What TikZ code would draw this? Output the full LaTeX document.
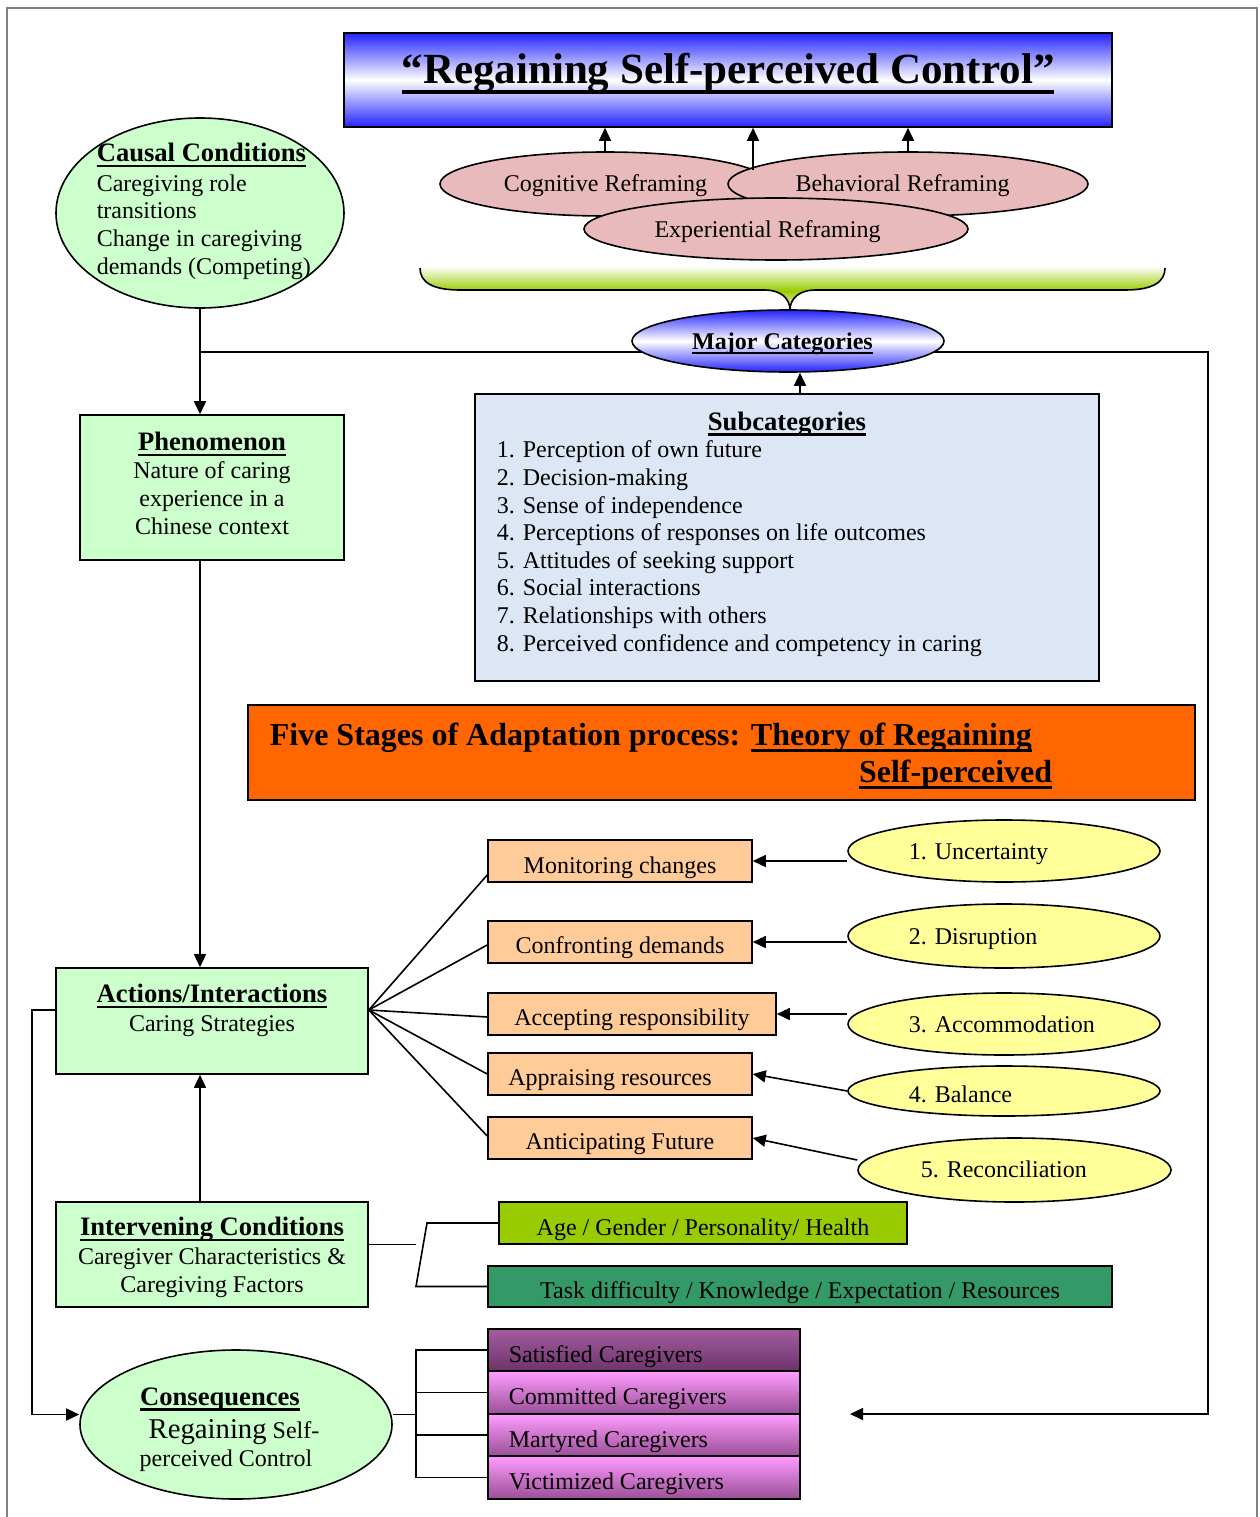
\documentclass[tikz,border=0pt]{standalone}
\usepackage{fontspec}
\setmainfont{Liberation Serif}
\usetikzlibrary{arrows.meta,shapes.geometric,calc}

\definecolor{lgreen}{HTML}{CCFFCC}
\definecolor{peach}{HTML}{FFCC99}
\definecolor{lyellow}{HTML}{FFFF99}
\definecolor{orng}{HTML}{FF6600}
\definecolor{agegreen}{HTML}{99CC00}
\definecolor{taskgreen}{HTML}{339966}
\definecolor{rosy}{HTML}{E8BABC}
\definecolor{paleblue}{HTML}{DCE6F4}
\definecolor{deepblue}{HTML}{2424FF}
\definecolor{pinkA}{HTML}{FF9CFF}
\definecolor{pinkB}{HTML}{EE90EC}
\definecolor{purpA}{HTML}{9A4F97}
\definecolor{purpB}{HTML}{A45CA1}
\definecolor{purpC}{HTML}{7B3E78}
\definecolor{purpD}{HTML}{6C3469}
\definecolor{framegray}{HTML}{808080}

\newcommand\fsz[2]{\fontsize{#1}{#2}\selectfont}
% underline at a fixed depth below the baseline: \ulx{thickness}{text}
\newsavebox\ulbox
\newcommand\ulx[2]{\leavevmode\sbox\ulbox{#2}%
  \rlap{\rule[\dimexpr-0.13em-#1\relax]{\wd\ulbox}{#1}}\usebox\ulbox}

\begin{document}
\begin{tikzpicture}[x=1pt,y=-1pt,line width=1.6pt,
  >={Triangle[length=13pt,width=12pt]},
  box/.style={draw=black, rectangle, inner sep=0pt},
  oval/.style={draw=black, ellipse, inner sep=0pt},
  txt/.style={inner sep=0pt, font=\fsz{24}{27.6}},
  head/.style={inner sep=0pt, font=\bfseries\fsz{26.6}{30}},
  bluefade/.style={top color=deepblue, bottom color=deepblue, middle color=white},
  purplefade/.style={top color=pinkA, middle color=pinkB, bottom color=purpA},
]
\useasboundingbox (0,0) rectangle (1259,1517);
\fill[white] (0,0) rectangle (1259,1517);

% page frame
\draw[framegray, line width=2pt] (7,1517) -- (7,8) -- (1257,8) -- (1257,1517);

% loop from the causal line round to the consequences side (behind the major categories oval)
\coordinate (jn) at (200,352);
\coordinate (rc) at (1208,352);
\coordinate (rb) at (1208,1414);
\coordinate (rtip) at (850,1414);
\draw[->] (jn) -- (rc) -- (rb) -- (rtip);

% ---------- title and reframing ovals ----------
\node[box, bluefade, minimum width=768pt, minimum height=94pt] (title) at (728,80) {};
\node[inner sep=0pt, font=\bfseries\fsz{43}{49}, anchor=base] (title-t) at (728,84)
  {\ulx{4pt}{“Regaining Self-perceived Control”}};

\node[oval, fill=rosy, minimum width=330pt, minimum height=64pt] (cog) at (605,184) {};
\node[oval, fill=rosy, minimum width=360pt, minimum height=64pt] (beh) at (908,184) {};
\node[oval, fill=rosy, minimum width=384pt, minimum height=62pt] (exp) at (776,229) {};
\node[txt, anchor=base] (cog-t) at (605.5,192) {Cognitive Reframing};
\node[txt, anchor=base] (beh-t) at (902.5,192) {Behavioral Reframing};
\node[txt, anchor=base] (exp-t) at (767.5,237) {Experiential Reframing};

\coordinate (midfoot) at (753,170);
\draw[->] (cog.north) -- (cog.north |- title.south);
\draw[->] (midfoot) -- (midfoot |- title.south);
\draw[->] (beh.north) -- (beh.north |- title.south);

% green brace gathering the ovals: green fade clipped to the brace, then its outline
\begin{scope}
  \clip (420,268) .. controls (420,282) and (432,290) .. (460,290) -- (765,290)
    .. controls (780,290) and (790,298) .. (790,310)
    .. controls (790,298) and (800,290) .. (815,290) -- (1125,290)
    .. controls (1153,290) and (1165,282) .. (1165,268) -- cycle;
  \shade[top color=white, bottom color=agegreen] (415,266) rectangle (1170,291);
  \shade[top color=agegreen, bottom color=white] (415,291) rectangle (1170,311);
\end{scope}
\draw (420,268) .. controls (420,282) and (432,290) .. (460,290) -- (765,290)
  .. controls (780,290) and (790,298) .. (790,310)
  .. controls (790,298) and (800,290) .. (815,290) -- (1125,290)
  .. controls (1153,290) and (1165,282) .. (1165,268);

\node[oval, bluefade, minimum width=312pt, minimum height=62pt] (maj) at (788,341) {};
\node[inner sep=0pt, font=\bfseries\fsz{24}{27.6}, anchor=base] (maj-t) at (782.5,349)
  {\ulx{2pt}{Major Categories}};

% ---------- left column (multi-line texts are placed by their last baseline) ----------
\node[oval, fill=lgreen, minimum width=288pt, minimum height=190pt] (causal) at (200,213) {};
\node[txt, anchor=base west, align=left] (causal-t) at (96,274)
  {{\bfseries\fsz{26.6}{30}\ulx{2.2pt}{Causal Conditions}}\\[2.4pt]
   Caregiving role\\ transitions\\ Change in caregiving\\ demands (Competing)};

\node[box, fill=lgreen, minimum width=264pt, minimum height=145pt] (phen) at (212,487.5) {};
\node[txt, anchor=base, align=center] (phen-t) at (212,534)
  {{\bfseries\fsz{26.6}{30}\ulx{2.2pt}{Phenomenon}}\\[1pt]
   Nature of caring\\ experience in a\\ Chinese context};

\node[box, fill=lgreen, minimum width=312pt, minimum height=106pt] (act) at (212,1021) {};
\node[txt, anchor=base, align=center] (act-t) at (212,1031)
  {{\bfseries\fsz{26.6}{30}\ulx{2.2pt}{Actions/Interactions}}\\[1pt] Caring Strategies};

\node[box, fill=lgreen, minimum width=312pt, minimum height=105pt] (int) at (212,1254.5) {};
\node[txt, anchor=base, align=center] (int-t) at (212,1292)
  {{\bfseries\fsz{26.6}{30}\ulx{2.2pt}{Intervening Conditions}}\\[1pt]
   Caregiver Characteristics \&\\ Caregiving Factors};

\node[oval, fill=lgreen, minimum width=312pt, minimum height=149pt] (cons) at (236,1424.5) {};
\node[head, anchor=base] (cons-h) at (220,1405) {\ulx{2.2pt}{Consequences}};
\node[txt, anchor=base] (cons-a) at (234,1438) {{\fsz{28.7}{32}Regaining} Self-};
\node[txt, anchor=base] (cons-b) at (226,1466) {perceived Control};

% vertical spine
\draw[->] (causal.south) -- (causal.south |- phen.north);
\draw[->] (causal.south |- phen.south) -- (causal.south |- act.north);
\draw[->] (causal.south |- int.north) -- (causal.south |- act.south);
\coordinate (lx) at (32,1200);
\draw[->] ([yshift=11pt]act.west) -| (lx) |- ([yshift=10pt]cons.west);

% ---------- subcategories ----------
\node[box, fill=paleblue, minimum width=624pt, minimum height=287pt] (sub) at (787,537.5) {};
\node[head, anchor=base] (sub-h) at (787,430) {\ulx{2.2pt}{Subcategories}};
\node[txt, anchor=base west, align=left] (sub-t) at (496,651)
  {1. Perception of own future\\
   2. Decision-making\\
   3. Sense of independence\\
   4. Perceptions of responses on life outcomes\\
   5. Attitudes of seeking support\\
   6. Social interactions\\
   7. Relationships with others\\
   8. Perceived confidence and competency in caring};
\draw[->] ([xshift=13pt]sub.north) -- ([xshift=13pt]sub.north |- maj.south);

% ---------- five stages ----------
\node[box, fill=orng, minimum width=947pt, minimum height=95pt] (stage) at (721.5,752.5) {};
\node[inner sep=0pt, font=\bfseries\fsz{32}{36}, anchor=base west] (stage-a) at (269,745)
  {Five Stages of Adaptation process: \ulx{3pt}{Theory of Regaining}};
\node[inner sep=0pt, font=\bfseries\fsz{32}{36}, anchor=base east] (stage-b) at (1053,782)
  {\ulx{3pt}{Self-perceived}};

\node[box, fill=peach, minimum width=264pt, minimum height=42pt] (mon) at (620,861) {};
\node[box, fill=peach, minimum width=264pt, minimum height=42pt] (conf) at (620,942) {};
\node[box, fill=peach, minimum width=288pt, minimum height=42pt] (accb) at (632,1014) {};
\node[box, fill=peach, minimum width=264pt, minimum height=42pt] (appr) at (620,1074) {};
\node[box, fill=peach, minimum width=264pt, minimum height=42pt] (antic) at (620,1138) {};
\node[txt, anchor=base] (mon-t) at (620,873) {Monitoring changes};
\node[txt, anchor=base] (conf-t) at (620,953) {Confronting demands};
\node[txt, anchor=base] (accb-t) at (632,1025) {Accepting responsibility};
\node[txt, anchor=base] (appr-t) at (610,1085) {Appraising resources};
\node[txt, anchor=base] (antic-t) at (620,1149) {Anticipating Future};

\node[oval, fill=lyellow, minimum width=312pt, minimum height=62pt] (unc) at (1004,851) {};
\node[oval, fill=lyellow, minimum width=312pt, minimum height=64pt] (dis) at (1004,936) {};
\node[oval, fill=lyellow, minimum width=312pt, minimum height=62pt] (accm) at (1004,1024) {};
\node[oval, fill=lyellow, minimum width=312pt, minimum height=50pt] (bal) at (1004,1091) {};
\node[oval, fill=lyellow, minimum width=313pt, minimum height=64pt] (rec) at (1014.5,1170) {};
\node[txt, anchor=base west] (unc-t) at (908,859) {1. Uncertainty};
\node[txt, anchor=base west] (dis-t) at (908,944) {2. Disruption};
\node[txt, anchor=base west] (accm-t) at (908,1032) {3. Accommodation};
\node[txt, anchor=base west] (bal-t) at (908,1102) {4. Balance};
\node[txt, anchor=base west] (rec-t) at (920,1177) {5. Reconciliation};

\draw[->] (unc.west |- mon.east) -- (mon.east);
\draw[->] (dis.west |- conf.east) -- (conf.east);
\draw[->] (accm.west |- accb.east) -- (accb.east);
\draw[->] (bal.west) -- (appr.east);
\draw[->] ([yshift=10pt]rec.west) -- (antic.east);

% strategies fanning out of the actions box
\draw ([yshift=11pt]act.east) -- ([yshift=-14pt]mon.west);
\draw ([yshift=11pt]act.east) -- ([yshift=-3pt]conf.west);
\draw ([yshift=11pt]act.east) -- ([yshift=-3pt]accb.west);
\draw ([yshift=11pt]act.east) -- (appr.west);
\draw ([yshift=11pt]act.east) -- ([yshift=2pt]antic.west);

% ---------- intervening factors ----------
\node[box, fill=agegreen, minimum width=408pt, minimum height=42pt] (age) at (703,1223) {};
\node[box, fill=taskgreen, minimum width=624pt, minimum height=41pt] (task) at (800,1286.5) {};
\node[txt, anchor=base] (age-t) at (703,1235) {Age / Gender / Personality/ Health};
\node[txt, anchor=base] (task-t) at (800,1298) {Task difficulty / Knowledge / Expectation / Resources};
\coordinate (ij) at (416,1244.5);
\coordinate (br1) at (427,1223);
\coordinate (br2) at (416,1286.5);
\draw ([yshift=10pt]int.east) -- (ij);
\draw (age.west) -- (br1) -- (br2) -- (task.west);

% ---------- consequences ----------
\node[box, top color=purpB, middle color=purpC, bottom color=purpD, minimum width=312pt, minimum height=42pt] (sat) at (644,1350) {};
\node[box, purplefade, minimum width=312pt, minimum height=43pt] (com) at (644,1392.5) {};
\node[box, purplefade, minimum width=312pt, minimum height=42pt] (mar) at (644,1435) {};
\node[box, purplefade, minimum width=312pt, minimum height=43pt] (vic) at (644,1477.5) {};
\node[txt, anchor=base west] (sat-t) at (508,1362) {Satisfied Caregivers};
\node[txt, anchor=base west] (com-t) at (508,1404) {Committed Caregivers};
\node[txt, anchor=base west] (mar-t) at (508,1447) {Martyred Caregivers};
\node[txt, anchor=base west] (vic-t) at (508,1489) {Victimized Caregivers};

\coordinate (cj) at (416,1414.5);
\draw ([yshift=10pt]cons.east) -- (cj);
\draw (sat.west) -| (cj) |- (vic.west);
\draw (com.west) -- (com.west -| cj);
\draw (mar.west) -- (mar.west -| cj);
\end{tikzpicture}
\end{document}
